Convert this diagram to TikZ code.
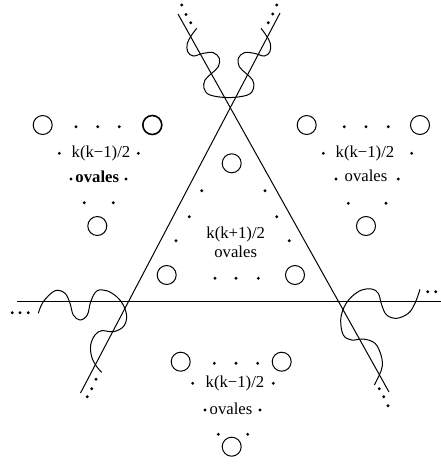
\documentclass[tikz,border=0pt]{standalone}
\usepackage{fontspec}
\setmainfont{Liberation Serif}
\usetikzlibrary{calc}
\tikzset{
  lbl/.style={font=\fontsize{16.7}{18}\selectfont,inner sep=0pt},
  ligne/.style={line width=1pt},
  nappe/.style={line width=1pt,smooth,tension=0.6},
}
\newcommand{\ovale}[3][1pt]{\draw[line width=#1] (#2,#3) circle[radius=9.5pt];}
\newcommand{\ovaldots}[1]{\foreach \dx/\dy in {#1} {\fill (\dx,\dy) circle[radius=1.6pt];}}

\begin{document}
\begin{tikzpicture}[x=1pt,y=-1pt]
  \useasboundingbox (0,0) rectangle (441,464);
  % les trois droites
  \coordinate (gh) at (178,14);   \coordinate (db) at (389,392);
  \coordinate (dh) at (280,13);   \coordinate (gb) at (80.5,393);
  \coordinate (hg) at (17,301);   \coordinate (hd) at (441,301);
  \draw[ligne] (gh) -- (db);
  \draw[ligne] (dh) -- (gb);
  \draw[ligne] (hg) -- (hd);
  \ovaldots{181.7/5,186/14.5,190.7/22.7, 276.7/5,272.7/14,268.3/22.7,
    96/379.3,91.7/388.7,87.3/396.7, 379.3/388.7,383.7/396.7,388/405.7,
    12.3/312.7,20/312.7,28.3/312.7, 427.7/291.7,435.7/291.7}
  % les nappes
  \draw[nappe] plot coordinates {(196.7,28.3) (191.7,35) (187.3,43.3) (187.7,51.7) (193.3,56)
    (203.3,53.3) (213.3,52.7) (219.3,58.3) (218.3,66.7) (211.7,73.3) (205,80) (204,88.3)
    (210,95) (228.8,97.6) (247.6,95) (253.6,88.3) (252.6,80) (245.9,73.3) (239.3,66.7)
    (238.3,58.3) (244.3,52.7) (254.3,53.3) (264.3,56) (269.9,51.7) (270.3,43.3) (265.9,35)
    (261,28.3)};
  \draw[nappe] plot coordinates {(38.3,313.3) (43.3,301.7) (55,290.7) (65,293.3) (70,303.3)
    (73.3,315) (80,320) (87.3,315) (90.7,301.7) (96.7,291) (106.7,290.7) (116.7,296.7)
    (123.3,305) (126.7,316.7) (123.3,326.7) (113.3,331.7) (101.7,330.7) (95,335) (90.7,345)
    (91.7,357) (96.7,366.7) (101.7,372.3)};
  \draw[nappe] plot coordinates {(420,289.3) (415,303.3) (408.3,313.3) (396.7,318.3) (386.7,315)
    (381.7,305) (378.3,293.3) (371.7,289) (361.7,290) (351.7,296.7) (344.3,306.7) (340.7,320)
    (343.3,335) (351.7,340) (363.3,339) (375,343.3) (381,355) (382.3,366) (379.3,375)
    (374.3,385)};
  % triangle central
  \ovale{231.7}{163.3}
  \ovale{166.7}{275}
  \ovale{295}{275}
  \ovaldots{201.7/190.7,189.3/216.7,176/240.7, 265/190.7,276.7/216.7,289.3/240.7,
    215/278.3,236/278.3,258.3/278.3}
  \node[lbl] (tri1) at (235.7,234.3) {k(k+1)/2};
  \node[lbl] (tri2) at (235.7,251.7) {ovales};
  % groupe gauche
  \ovale{42.7}{125}
  \ovale[1.6pt]{152.3}{125}
  \ovale{97.3}{226}
  \ovaldots{76/126.7,97.7/126.7,119.3/126.7, 59.3/153.3,138.3/153.3,
    71/179,126/179, 84.3/202.7,113.3/202.7}
  \node[lbl] (gau1) at (101,153.3) {k(k−1)/2};
  \node[lbl,font=\fontsize{16.7}{18}\selectfont\bfseries] (gau2) at (97.3,176.7) {ovales};
  % groupe droit
  \ovale{306.7}{125}
  \ovale{420}{125}
  \ovale{366}{226}
  \ovaldots{344.3/126.7,366/126.7,388.3/126.7, 323.3/153.3,411.7/153.3,
    336/179,398.3/179, 348.3/203.3,386/203.3}
  \node[lbl] (dro1) at (365,153.3) {k(k−1)/2};
  \node[lbl] (dro2) at (366,176) {ovales};
  % groupe bas
  \ovale{180.7}{361.7}
  \ovale{281.7}{361.7}
  \ovale{231.7}{446.7}
  \ovaldots{214.3/363.3,236/363.3,257.7/363.3, 192.7/383.3,273.3/383.3,
    205/410,260/410, 218.3/434.3,247.7/434.3}
  \node[lbl] (bas1) at (235,383.3) {k(k−1)/2};
  \node[lbl] (bas2) at (231,408.3) {ovales};
\end{tikzpicture}
\end{document}
